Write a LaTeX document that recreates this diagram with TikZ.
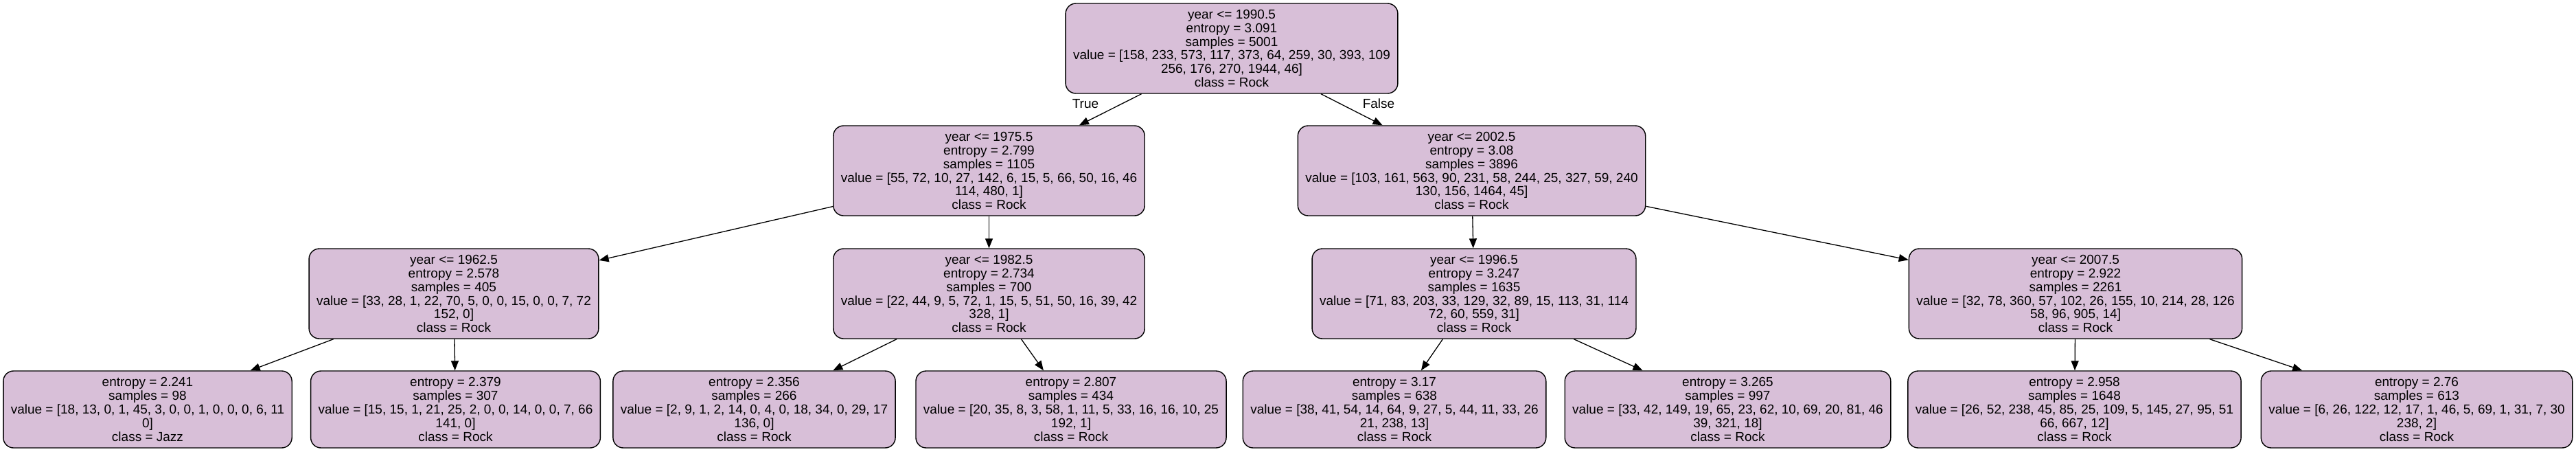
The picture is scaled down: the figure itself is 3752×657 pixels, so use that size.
\documentclass[tikz,border=0pt]{standalone}
\usepackage{fontspec}
\setmainfont{Liberation Sans}
\usepackage{tikz}
\usetikzlibrary{arrows.meta}

\definecolor{splitfill}{RGB}{216,191,216}

\begin{document}
\begin{tikzpicture}[
  x=1pt, y=-1pt,
  treenode/.style={
      draw=black,
      line width=1.4pt,
      fill=splitfill,
      rounded corners=15pt,
      align=center,
      inner xsep=11pt,
      inner ysep=0pt,
      minimum height=131pt,
      font=\fontsize{19}{19.9}\selectfont
  },
  leafnode/.style={treenode, minimum height=112pt},
  edgelabel/.style={font=\fontsize{19}{19.9}\selectfont},
  branch/.style={line width=1.3pt, -{Triangle[length=14pt,width=11pt]}}
]
\useasboundingbox (0,0) rectangle (3752,657);

% splits
\node[treenode] (root) at (1794,70.5) {year <= 1990.5\\entropy = 3.091\\samples = 5001\\value = [158, 233, 573, 117, 373, 64, 259, 30, 393, 109\\256, 176, 270, 1944, 46]\\class = Rock};
\node[treenode] (y1975) at (1440.5,248.5) {year <= 1975.5\\entropy = 2.799\\samples = 1105\\value = [55, 72, 10, 27, 142, 6, 15, 5, 66, 50, 16, 46\\114, 480, 1]\\class = Rock};
\node[treenode] (y2002) at (2143.5,248.5) {year <= 2002.5\\entropy = 3.08\\samples = 3896\\value = [103, 161, 563, 90, 231, 58, 244, 25, 327, 59, 240\\130, 156, 1464, 45]\\class = Rock};
\node[treenode] (y1962) at (661,427.5) {year <= 1962.5\\entropy = 2.578\\samples = 405\\value = [33, 28, 1, 22, 70, 5, 0, 0, 15, 0, 0, 7, 72\\152, 0]\\class = Rock};
\node[treenode] (y1982) at (1440.5,427.5) {year <= 1982.5\\entropy = 2.734\\samples = 700\\value = [22, 44, 9, 5, 72, 1, 15, 5, 51, 50, 16, 39, 42\\328, 1]\\class = Rock};
\node[treenode] (y1996) at (2147,427.5) {year <= 1996.5\\entropy = 3.247\\samples = 1635\\value = [71, 83, 203, 33, 129, 32, 89, 15, 113, 31, 114\\72, 60, 559, 31]\\class = Rock};
\node[treenode] (y2007) at (3023,427.5) {year <= 2007.5\\entropy = 2.922\\samples = 2261\\value = [32, 78, 360, 57, 102, 26, 155, 10, 214, 28, 126\\58, 96, 905, 14]\\class = Rock};

% leaves
\node[leafnode] (leafA) at (215,596) {entropy = 2.241\\samples = 98\\value = [18, 13, 0, 1, 45, 3, 0, 0, 1, 0, 0, 0, 6, 11\\0]\\class = Jazz};
\node[leafnode] (leafB) at (663.5,596) {entropy = 2.379\\samples = 307\\value = [15, 15, 1, 21, 25, 2, 0, 0, 14, 0, 0, 7, 66\\141, 0]\\class = Rock};
\node[leafnode] (leafC) at (1098.5,596) {entropy = 2.356\\samples = 266\\value = [2, 9, 1, 2, 14, 0, 4, 0, 18, 34, 0, 29, 17\\136, 0]\\class = Rock};
\node[leafnode] (leafD) at (1560,596) {entropy = 2.807\\samples = 434\\value = [20, 35, 8, 3, 58, 1, 11, 5, 33, 16, 16, 10, 25\\192, 1]\\class = Rock};
\node[leafnode] (leafE) at (2031,596) {entropy = 3.17\\samples = 638\\value = [38, 41, 54, 14, 64, 9, 27, 5, 44, 11, 33, 26\\21, 238, 13]\\class = Rock};
\node[leafnode] (leafF) at (2516.5,596) {entropy = 3.265\\samples = 997\\value = [33, 42, 149, 19, 65, 23, 62, 10, 69, 20, 81, 46\\39, 321, 18]\\class = Rock};
\node[leafnode] (leafG) at (3021.5,596) {entropy = 2.958\\samples = 1648\\value = [26, 52, 238, 45, 85, 25, 109, 5, 145, 27, 95, 51\\66, 667, 12]\\class = Rock};
\node[leafnode] (leafH) at (3520,596) {entropy = 2.76\\samples = 613\\value = [6, 26, 122, 12, 17, 1, 46, 5, 69, 1, 31, 7, 30\\238, 2]\\class = Rock};

% edges
\draw[branch] (root) -- (y1975);
\draw[branch] (root) -- (y2002);
\draw[branch] (y1975) -- (y1962);
\draw[branch] (y1975) -- (y1982);
\draw[branch] (y2002) -- (y1996);
\draw[branch] (y2002) -- (y2007);
\draw[branch] (y1962) -- (leafA);
\draw[branch] (y1962) -- (leafB);
\draw[branch] (y1982) -- (leafC);
\draw[branch] (y1982) -- (leafD);
\draw[branch] (y1996) -- (leafE);
\draw[branch] (y1996) -- (leafF);
\draw[branch] (y2007) -- (leafG);
\draw[branch] (y2007) -- (leafH);

\node[edgelabel] (truelbl) at (1581,151) {True};
\node[edgelabel] (falselbl) at (2008,151) {False};
\end{tikzpicture}
\end{document}
